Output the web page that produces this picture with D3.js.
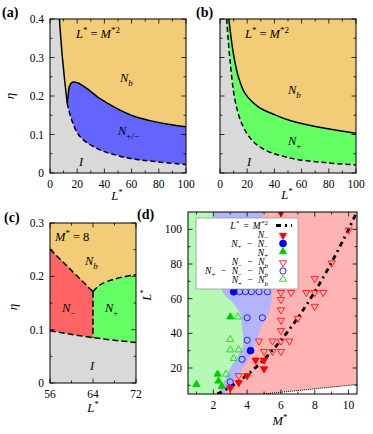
<!DOCTYPE html>
<html><head><meta charset="utf-8">
<script src="https://cdn.jsdelivr.net/npm/d3@7"></script>
<style>
body{margin:0;background:#fff}
svg{display:block}
text{font-family:"Liberation Serif","DejaVu Serif",serif;fill:#000}
</style>
</head><body><script>
// ── Data ────────────────────────────────────────────────────────────────
// (a) boundaries, L* vs eta
const aSteepL = [6.9, 8.6, 9.3, 11, 12.7];
const aSteepEta = [0.4, 0.32, 0.293, 0.233, 0.181];
const aTopL = [12.7, 13.6, 14.2, 15.9, 19.6, 24.5, 36.8, 49, 61.3, 73.5, 85.8, 100];
const aTopEta = [0.181, 0.21, 0.224, 0.235, 0.235, 0.226, 0.193, 0.168, 0.148, 0.136, 0.127, 0.12];
const aLowL = [12.7, 13.5, 15.9, 19.6, 24.5, 36.8, 49, 61.3, 73.5, 100];
const aLowEta = [0.181, 0.168, 0.138, 0.107, 0.086, 0.060, 0.046, 0.036, 0.031, 0.022];
// (b)
const bSolidL = [6.5, 9.8, 13.5, 18.4, 28.2, 40.4, 52.7, 77.2, 100];
const bSolidEta = [0.4, 0.311, 0.25, 0.207, 0.172, 0.151, 0.135, 0.116, 0.103];
const bDashL = [4.9, 7.35, 11, 15.9, 23.3, 33, 52.7, 77.2, 100];
const bDashEta = [0.4, 0.293, 0.19, 0.129, 0.086, 0.060, 0.038, 0.027, 0.021];
// (c) M* = 8
const cNbNmL = [56, 64], cNbNmEta = [0.251, 0.171];
const cNbNpL = [64, 65.3, 68.4, 72], cNbNpEta = [0.171, 0.184, 0.196, 0.203];
const cNmNpL = [64, 64], cNmNpEta = [0.171, 0.085];
const cIL = [56, 64, 72], cIEta = [0.098, 0.085, 0.076];
// (d) region boundaries (M*, L*)
const dGBm = [2.0, 2.1, 2.25, 2.45, 2.6, 3.2, 3.6, 3.7, 3.75, 3.4, 3.0, 2.65, 2.25];
const dGBl = [110, 95, 80, 67, 63, 57, 51, 43, 33, 26, 20, 12.5, 5];
const dBRm = [4.95, 4.95, 5.1, 5.35, 5.47, 5.37, 5.17, 4.94, 4.6, 4.37, 4.0, 3.5, 3.0, 2.7];
const dBRl = [110, 85, 72, 66, 63, 55, 49, 46, 37, 31, 24, 16, 10, 5];
const dSqM = [2.236, 3, 4, 5, 6, 7, 8, 9, 10, 10.488];
const dSqL = [5, 9, 16, 25, 36, 49, 64, 81, 100, 110];
const dLinM = [5, 10.5], dLinL = [5, 10.5];
// (d) simulation points
const nmM = [3, 3.5, 4, 4.5, 5, 5, 6], nmL = [9, 12, 16, 25, 25, 20, 110];
const npnmM = [3.2, 4.2], npnmL = [64, 30];
const npM = [1, 2.25, 2.3, 2.5, 3], npL = [10, 16, 12, 9, 49];
const nmnbM = [3.5, 4.7, 5, 5.5, 6, 5.5, 6, 6.5, 6, 6, 6, 6, 6, 6.6, 7.5, 8, 8.5, 7, 8, 8, 9, 10];
const nmnbL = [16, 36, 30, 30, 30, 36, 36, 36, 42, 48, 54, 60, 64, 64, 64, 64, 64, 49, 56, 72, 81, 100];
const npnmnbM = [3.55, 3.9, 4.25, 4.7, 5.2, 4, 4.9, 4, 3.7, 3];
const npnmnbL = [64, 64, 64, 64, 64, 49, 49, 36, 25, 12];
const npnbM = [3.45, 3, 3, 3.5, 3.2, 2.75];
const npnbL = [49, 36, 30, 30, 25, 16];

const C = { nb: "#f3cc77", blue: "#6464ff", green: "#64ff64", red: "#ff6464", grey: "#d9d9d9",
  lg: "#b4fab4", lb: "#b4b4fa", lr: "#ffb4b4" };
const TICK_FS = 11.5, LBL_FS = 12.5;

const svg = d3.select("body").append("svg").attr("width", 373).attr("height", 434);

// math-ish text with italic / sub / sup parts
function mt(g, x, y, parts, size, anchor) {
  const t = g.append("text").attr("x", x).attr("y", y).attr("font-size", size)
    .attr("text-anchor", anchor || "start");
  let shift = 0;
  parts.forEach(([s, k, dx]) => {
    k = k || "";
    const ts = t.append("tspan").text(s);
    let target = 0, fs = size;
    if (k.includes("sub")) { target = size * 0.3; fs = size * 0.72; }
    if (k.includes("sup")) { target = -size * 0.38; fs = size * 0.72; }
    if (k.includes("it")) ts.attr("font-style", "italic");
    ts.attr("font-size", fs).attr("dy", target - shift);
    if (dx) ts.attr("dx", dx);
    shift = target;
  });
  return t;
}

let clipN = 0;
function panel(x0, x1, y0, y1, xd, yd) {
  const x = d3.scaleLinear().domain(xd).range([x0, x1]);
  const y = d3.scaleLinear().domain(yd).range([y1, y0]);
  const id = "clip" + (clipN++);
  svg.append("clipPath").attr("id", id).append("rect")
    .attr("x", x0).attr("y", y0).attr("width", x1 - x0).attr("height", y1 - y0);
  const g = svg.append("g").attr("clip-path", `url(#${id})`);
  const line = (xs, ys) => d3.line().curve(d3.curveCatmullRom)
    (xs.map((v, i) => [x(v), y(ys[i])]));
  return { x, y, g, line, x0, x1, y0, y1 };
}
const seg = (d) => d.replace(/^M/, "L");

function axes(p, o) {
  const g = svg.append("g");
  const tick = (v, len, horiz) => {
    if (horiz) {
      const xx = p.x(v);
      g.append("line").attr("x1", xx).attr("x2", xx).attr("y1", p.y1).attr("y2", p.y1 - len);
      g.append("line").attr("x1", xx).attr("x2", xx).attr("y1", p.y0).attr("y2", p.y0 + len);
    } else {
      const yy = p.y(v);
      g.append("line").attr("y1", yy).attr("y2", yy).attr("x1", p.x0).attr("x2", p.x0 + len);
      g.append("line").attr("y1", yy).attr("y2", yy).attr("x1", p.x1).attr("x2", p.x1 - len);
    }
  };
  o.xMaj.forEach(v => tick(v, 4.5, true));
  o.xMin.forEach(v => tick(v, 2.5, true));
  o.yMaj.forEach(v => tick(v, 4.5, false));
  o.yMin.forEach(v => tick(v, 2.5, false));
  g.selectAll("line").attr("stroke", "#000").attr("stroke-width", 0.8);
  g.append("rect").attr("x", p.x0).attr("y", p.y0).attr("width", p.x1 - p.x0)
    .attr("height", p.y1 - p.y0).attr("fill", "none").attr("stroke", "#000").attr("stroke-width", 1);
  o.xMaj.forEach(v => g.append("text").attr("x", p.x(v)).attr("y", p.y1 + 15)
    .attr("text-anchor", "middle").attr("font-size", TICK_FS).text(v));
  if (o.yLabels !== false)
    o.yMaj.forEach(v => g.append("text").attr("x", p.x0 - 6).attr("y", p.y(v) + 4)
      .attr("text-anchor", "end").attr("font-size", TICK_FS).text(v));
}

const mathL = [["L", "it"], ["*", "sup"]];
function etaLabel(x, y) {
  svg.append("text").attr("transform", `translate(${x},${y}) rotate(-90)`)
    .attr("text-anchor", "middle").attr("font-size", 13).attr("font-style", "italic").text("η");
}
const eqLabel = [["L", "it"], ["*", "sup"], ["=", "", 3], ["M", "it", 3], ["*2", "sup"]];
const panelTag = (x, y, s) => svg.append("text").attr("x", x).attr("y", y)
  .attr("font-size", 14).attr("font-weight", "bold").text(s);

// ── Panel (a) ───────────────────────────────────────────────────────────
{
  const p = panel(50, 186, 19, 173, [0, 100], [0, 0.4]);
  p.g.append("rect").attr("x", p.x0).attr("y", p.y0).attr("width", p.x1 - p.x0)
    .attr("height", p.y1 - p.y0).attr("fill", C.grey);
  const steep = p.line(aSteepL, aSteepEta), top = p.line(aTopL, aTopEta);
  const low = p.line(aLowL, aLowEta);
  p.g.append("path").attr("fill", C.nb)
    .attr("d", steep + seg(top) + `L${p.x(100)},${p.y(0.4)}Z`);
  p.g.append("path").attr("fill", C.blue)
    .attr("d", top + `L${p.x(100)},${p.y(aLowEta[aLowEta.length - 1])}` +
      seg(p.line(aLowL.slice().reverse(), aLowEta.slice().reverse())) + "Z");
  p.g.append("path").attr("d", steep).attr("fill", "none").attr("stroke", "#000").attr("stroke-width", 1.5);
  p.g.append("path").attr("d", top).attr("fill", "none").attr("stroke", "#000").attr("stroke-width", 1.5);
  p.g.append("path").attr("d", low).attr("fill", "none").attr("stroke", "#000")
    .attr("stroke-width", 1.5).attr("stroke-dasharray", "5,3");
  axes(p, { xMaj: [0, 20, 40, 60, 80, 100], xMin: [10, 30, 50, 70, 90],
    yMaj: [0, 0.1, 0.2, 0.3, 0.4], yMin: [0.05, 0.15, 0.25, 0.35] });
  mt(svg, 76, 38, eqLabel, LBL_FS);
  mt(svg, 120, 82, [["N", "it"], ["b", "subit"]], LBL_FS);
  mt(svg, 118, 135, [["N", "it"], ["+/−", "sub"]], LBL_FS);
  mt(svg, 79, 166, [["I", "it"]], LBL_FS);
  mt(svg, 117, 200, mathL, LBL_FS, "middle");
  etaLabel(14, 96);
  panelTag(2, 17, "(a)");
}

// ── Panel (b) ───────────────────────────────────────────────────────────
{
  const p = panel(220, 356, 19, 173, [0, 100], [0, 0.4]);
  p.g.append("rect").attr("x", p.x0).attr("y", p.y0).attr("width", p.x1 - p.x0)
    .attr("height", p.y1 - p.y0).attr("fill", C.grey);
  const solid = p.line(bSolidL, bSolidEta), dash = p.line(bDashL, bDashEta);
  p.g.append("path").attr("fill", C.green).attr("d", dash + `L${p.x(100)},${p.y(0.4)}Z`);
  p.g.append("path").attr("fill", C.nb).attr("d", solid + `L${p.x(100)},${p.y(0.4)}Z`);
  p.g.append("path").attr("d", solid).attr("fill", "none").attr("stroke", "#000").attr("stroke-width", 1.5);
  p.g.append("path").attr("d", dash).attr("fill", "none").attr("stroke", "#000")
    .attr("stroke-width", 1.5).attr("stroke-dasharray", "5,3");
  axes(p, { xMaj: [0, 20, 40, 60, 80, 100], xMin: [10, 30, 50, 70, 90],
    yMaj: [0, 0.1, 0.2, 0.3, 0.4], yMin: [0.05, 0.15, 0.25, 0.35], yLabels: false });
  mt(svg, 245, 38, eqLabel, LBL_FS);
  mt(svg, 288, 94, [["N", "it"], ["b", "subit"]], LBL_FS);
  mt(svg, 288, 145, [["N", "it"], ["+", "sub"]], LBL_FS);
  mt(svg, 247, 166, [["I", "it"]], LBL_FS);
  mt(svg, 287, 199, mathL, LBL_FS, "middle");
  panelTag(196, 17, "(b)");
}

// ── Panel (c) ───────────────────────────────────────────────────────────
{
  const p = panel(50, 136, 223, 383, [56, 72], [0, 0.3]);
  p.g.append("rect").attr("x", p.x0).attr("y", p.y0).attr("width", p.x1 - p.x0)
    .attr("height", p.y1 - p.y0).attr("fill", C.grey);
  const nbnm = p.line(cNbNmL, cNbNmEta), nbnp = p.line(cNbNpL, cNbNpEta);
  const nmnp = p.line(cNmNpL, cNmNpEta), iLine = p.line(cIL, cIEta);
  p.g.append("path").attr("fill", C.nb)
    .attr("d", `M${p.x(56)},${p.y(0.3)}` + seg(nbnm) + seg(nbnp) + `L${p.x(72)},${p.y(0.3)}Z`);
  p.g.append("path").attr("fill", C.red)
    .attr("d", nbnm + seg(nmnp) + `L${p.x(56)},${p.y(cIEta[0])}Z`);
  p.g.append("path").attr("fill", C.green)
    .attr("d", nbnp + `L${p.x(72)},${p.y(cIEta[2])}L${p.x(64)},${p.y(cIEta[1])}Z`);
  [nbnm, nbnp, nmnp, iLine].forEach(d => p.g.append("path").attr("d", d).attr("fill", "none")
    .attr("stroke", "#000").attr("stroke-width", 1.5).attr("stroke-dasharray", "6,3"));
  axes(p, { xMaj: [56, 64, 72], xMin: [60, 68],
    yMaj: [0, 0.1, 0.2, 0.3], yMin: [0.05, 0.15, 0.25] });
  mt(svg, 55, 241, [["M", "it"], ["*", "sup"], ["=", "", 3], ["8", "", 3]], LBL_FS);
  mt(svg, 85, 265, [["N", "it"], ["b", "subit"]], LBL_FS);
  mt(svg, 62, 312, [["N", "it"], ["−", "sub"]], LBL_FS);
  mt(svg, 105, 312, [["N", "it"], ["+", "sub"]], LBL_FS);
  mt(svg, 90, 370, [["I", "it"]], LBL_FS);
  mt(svg, 93, 412, mathL, LBL_FS, "middle");
  etaLabel(17, 307);
  panelTag(4, 222, "(c)");
}

// ── Panel (d) ───────────────────────────────────────────────────────────
{
  const p = panel(188, 357, 212, 394, [0.5, 10.5], [5, 110]);
  p.g.append("rect").attr("x", p.x0).attr("y", p.y0).attr("width", p.x1 - p.x0)
    .attr("height", p.y1 - p.y0).attr("fill", C.lr);
  p.g.append("path").attr("fill", C.lb)
    .attr("d", `M${p.x(0.5)},${p.y(110)}` + seg(p.line(dBRm, dBRl)) + `L${p.x(0.5)},${p.y(5)}Z`);
  p.g.append("path").attr("fill", C.lg)
    .attr("d", `M${p.x(0.5)},${p.y(110)}` + seg(p.line(dGBm, dGBl)) + `L${p.x(0.5)},${p.y(5)}Z`);
  p.g.append("path").attr("fill", "#fff")
    .attr("d", p.line(dLinM, dLinL) + `L${p.x(10.5)},${p.y(5)}Z`);
  p.g.append("path").attr("d", p.line(dLinM, dLinL)).attr("fill", "none")
    .attr("stroke", "#000").attr("stroke-width", 1).attr("stroke-dasharray", "1,1");
  p.g.append("path").attr("d", p.line(dSqM, dSqL)).attr("fill", "none")
    .attr("stroke", "#000").attr("stroke-width", 2.8).attr("stroke-dasharray", "5,4,2,4");

  const tri = d3.symbol(d3.symbolTriangle, 22)();
  const pts = (ms, ls, fn) => ms.forEach((m, i) => fn(p.g, p.x(m), p.y(ls[i])));
  const down = (fill, stroke) => (g, x, y) => g.append("path").attr("d", tri)
    .attr("transform", `translate(${x},${y + 0.8}) rotate(180)`)
    .attr("fill", fill).attr("stroke", stroke).attr("stroke-width", 0.9);
  const up = (fill, stroke) => (g, x, y) => g.append("path").attr("d", tri)
    .attr("transform", `translate(${x},${y - 0.8})`)
    .attr("fill", fill).attr("stroke", stroke).attr("stroke-width", 0.9);
  const circ = (fill, stroke) => (g, x, y) => g.append("circle").attr("cx", x).attr("cy", y)
    .attr("r", fill === "none" ? 3.1 : 3.4).attr("fill", fill).attr("stroke", stroke).attr("stroke-width", 0.9);

  pts(nmnbM, nmnbL, down("none", "#ff1010"));
  pts(npnmnbM, npnmnbL, circ("none", "#1010ff"));
  pts(npnbM, npnbL, up("none", "#20d020"));
  pts(nmM, nmL, down("#ff0000", "#ff0000"));
  pts(npnmM, npnmL, circ("#0000ff", "#0000ff"));
  pts(npM, npL, up("#00cc00", "#00cc00"));

  // legend
  const lg = svg.append("g");
  lg.append("rect").attr("x", 196).attr("y", 218).attr("width", 102).attr("height", 71)
    .attr("fill", "#fff").attr("stroke", "#999").attr("stroke-width", 0.8);
  const rows = [225.5, 234.5, 243.5, 252.5, 262, 271, 280];
  const fs = 9.5;
  // N with subscript; "pre" adds the spaced minus operator before it
  const Nt = (s, pre) => [...(pre ? [["−", "", 5.5]] : []), ["N", "it", pre ? 5.5 : 0],
    [s, s === "b" ? "subit" : "sub"]];
  const labels = [
    [["L", "it"], ["*", "sup", 0.5], ["=", "", 4], ["M", "it", 4], ["*2", "sup", 0.5]],
    Nt("−"),
    [...Nt("+"), ...Nt("−", 1)],
    Nt("+"),
    [...Nt("−"), ...Nt("b", 1)],
    [...Nt("+"), ...Nt("−", 1), ...Nt("b", 1)],
    [...Nt("+"), ...Nt("b", 1)],
  ];
  labels.forEach((l, i) => mt(lg, 268, rows[i] + 3, l, fs, "end"));
  lg.append("line").attr("x1", 276).attr("x2", 292).attr("y1", rows[0]).attr("y2", rows[0])
    .attr("stroke", "#000").attr("stroke-width", 2.8).attr("stroke-dasharray", "5,4,2,4");
  down("#ff0000", "#ff0000")(lg, 283, rows[1]);
  circ("#0000ff", "#0000ff")(lg, 283, rows[2]);
  up("#00cc00", "#00cc00")(lg, 283, rows[3]);
  down("none", "#ff1010")(lg, 283, rows[4]);
  circ("none", "#1010ff")(lg, 283, rows[5]);
  up("none", "#20d020")(lg, 283, rows[6]);

  axes(p, { xMaj: [2, 4, 6, 8, 10], xMin: [1, 3, 5, 7, 9],
    yMaj: [20, 40, 60, 80, 100], yMin: [10, 30, 50, 70, 90] });
  mt(svg, 280, 425, [["M", "it"], ["*", "sup"]], LBL_FS, "middle");
  svg.append("text").attr("transform", "translate(151,295) rotate(-90)")
    .attr("text-anchor", "middle").attr("font-size", LBL_FS)
    .call(t => { t.append("tspan").attr("font-style", "italic").text("L");
      t.append("tspan").attr("font-size", 9).attr("dy", -5).text("*"); });
  panelTag(137, 219, "(d)");
}
</script></body></html>
